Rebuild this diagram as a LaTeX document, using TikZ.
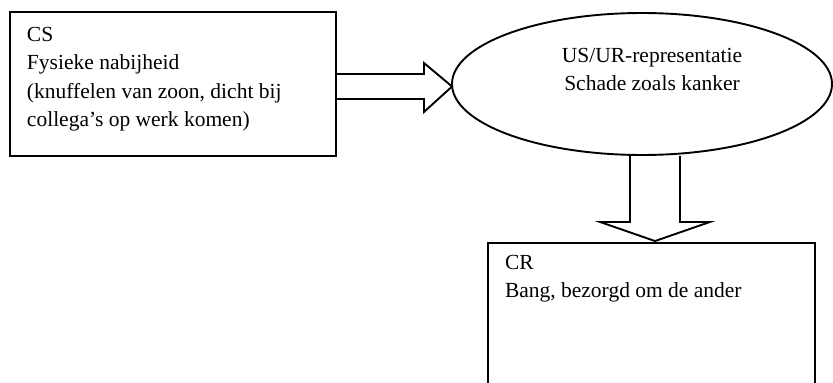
\documentclass[tikz,border=0pt]{standalone}
\usepackage{fontspec}
\setmainfont{Liberation Serif}
\usetikzlibrary{calc, shapes.geometric}
\definecolor{cline}{HTML}{000000}
\tikzset{
  every picture/.style={line width=1.9bp},
  box/.style={draw=cline, rectangle, inner sep=0pt},
  bubble/.style={draw=cline, ellipse, inner sep=0pt, minimum width=380bp, minimum height=142bp},
  txt/.style={inner sep=0pt, font=\fontsize{21.5bp}{28.5bp}\selectfont},
  blockarrow/.style={draw=cline, line join=miter},
}

\begin{document}
\begin{tikzpicture}[x=1bp, y=1bp]
  \clip (0,0) rectangle (833,382);
  \node[box, minimum width=326bp, minimum height=144bp] (cs) at (173,298) {};
  \node[bubble] (us) at (642,298) {};
  \node[box, minimum width=327bp, minimum height=149bp] (cr) at (651.5,64.5) {};
  % texts
  \node[txt, anchor=north west, align=left] (cstext) at ($(cs.north west)+(17,-15)$)
    {CS\\Fysieke nabijheid\\(knuffelen van zoon, dicht bij\\collega’s op werk komen)};
  \node[txt, anchor=north, align=center] (ustext) at (652,335)
    {US/UR-representatie\\Schade zoals kanker};
  \node[txt, anchor=north west, align=left] (crtext) at ($(cr.north west)+(17,-12)$)
    {CR\\Bang, bezorgd om de ander};
  % block arrows
  \draw[blockarrow] ($(cs.east)+(0,10)$) -- ++(87,0) -- ++(0,11) -- ($(us.west)+(1,-2.5)$)
    -- ($(cs.east)+(87,-28)$) -- ++(0,13) -- ($(cs.east)+(0,-15)$);
  \draw[blockarrow] ($(us.south)+(-12,0)$) -- ($(us.south)+(-12,-66)$) -- ++(-30,0) -- ($(cr.north)+(3.5,1)$)
    -- ($(us.south)+(68,-66)$) -- ++(-30,0) -- ($(us.south)+(38,0)$);
\end{tikzpicture}
\end{document}
